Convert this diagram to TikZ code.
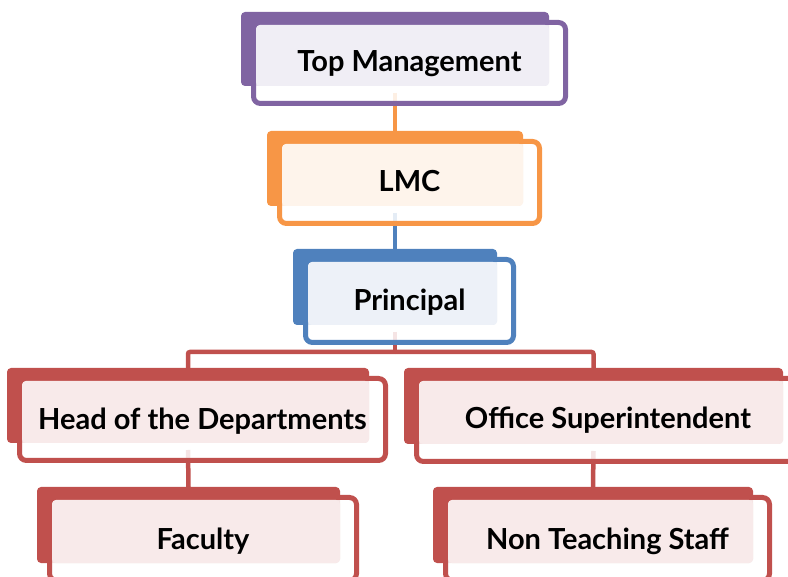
\documentclass[tikz,border=0pt]{standalone}
\usepackage{fontspec}
\setmainfont{Lato}
\usetikzlibrary{calc}
\definecolor{cpur}{HTML}{8064A2}
\definecolor{lpur}{HTML}{F0EEF5}
\definecolor{cora}{HTML}{F79646}
\definecolor{lora}{HTML}{FEF4EB}
\definecolor{cblu}{HTML}{4F81BD}
\definecolor{lblu}{HTML}{EDF1F8}
\definecolor{cred}{HTML}{C0504D}
\definecolor{lred}{HTML}{F8EAEA}
\tikzset{
  backbox/.style={rectangle, rounded corners=4pt, inner sep=0pt, outer sep=0pt},
  frontbox/.style={rectangle, rounded corners=7pt, inner sep=0pt, outer sep=0pt, line width=5pt, fill=white, fill opacity=0.85, draw opacity=1},
  lightbox/.style={rectangle, rounded corners=4pt, inner sep=0pt, outer sep=0pt},
  label/.style={anchor=base, inner sep=0pt, font=\fontsize{29}{34}\selectfont\bfseries, text=black},
  conn/.style={line width=4.5pt, rounded corners=2pt}
}
\newcommand\orgbox[9]{%
  \node[backbox, fill=#2, minimum width={(#6-#4)*1pt}, minimum height={(#7-#5)*1pt}] (#1B) at ({(#4+#6)/2},{(#5+#7)/2}) {};
  \node[frontbox, draw=#2, minimum width={(#6-#4+4)*1pt}, minimum height={(#7-#5+7)*1pt}] (#1F) at ({(#4+#6)/2+14.5},{(#5+#7)/2+14}) {};
  \node[lightbox, fill=#3, minimum width={(#6-#4-15)*1pt}, minimum height={(#7-#5-13)*1pt}] (#1L) at ({(#4+#6)/2+7.5},{(#5+#7)/2+6.5}) {};
  \node[label] (#1T) at ({(#4+#6)/2+14.5},#9) {#8};
}
\begin{document}
\begin{tikzpicture}[x=1pt,y=-1pt]
\useasboundingbox (0,0) rectangle (788,577);
\pgfdeclarelayer{fg}
\pgfsetlayers{main,fg}
\begin{pgfonlayer}{fg}
\orgbox{tm}{cpur}{lpur}{241}{12}{549}{86}{Top Management}{72}
\orgbox{lmc}{cora}{lora}{267}{131}{523}{206}{LMC}{192}
\orgbox{pr}{cblu}{lblu}{293}{249}{497}{325}{Principal}{311}
\orgbox{hod}{cred}{lred}{7}{368}{369}{443}{Head of the Departments}{430}
\orgbox{os}{cred}{lred}{404}{368}{783}{444}{Office Superintendent}{429}
\orgbox{fac}{cred}{lred}{37}{487}{340}{563}{Faculty}{549}
\orgbox{nts}{cred}{lred}{433}{487}{753}{563}{Non Teaching Staff}{549}
\end{pgfonlayer}
\draw[conn, cora] ($(tmB.south)+(0,7)$) -- (lmcB.north);
\draw[conn, cblu] ($(lmcB.south)+(0,7)$) -- (prB.north);
\coordinate (bus) at ($(prB.south)+(0,27)$);
\draw[conn, cred] ($(prB.south)+(0,7)$) -- (bus);
\draw[conn, cred] (bus) -| (hodB.north);
\draw[conn, cred] (bus) -| (osB.north);
\draw[conn, cred] ($(hodB.south)+(0,7)$) -- (facB.north);
\draw[conn, cred] ($(osB.south)+(0,7)$) -- (ntsB.north);
\end{tikzpicture}
\end{document}
